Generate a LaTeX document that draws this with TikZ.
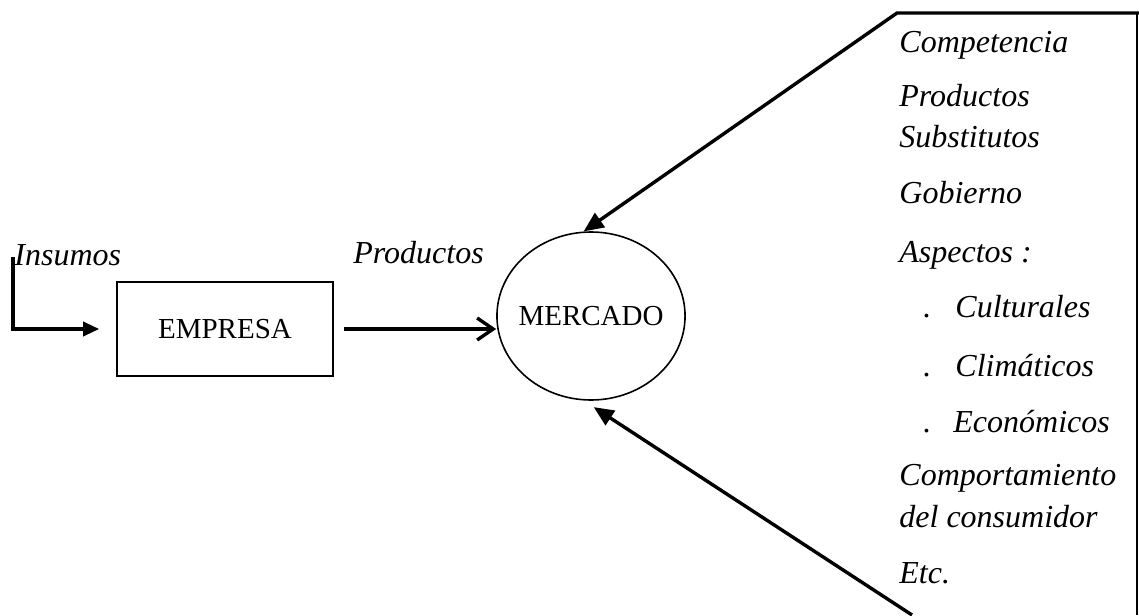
\documentclass[tikz,border=0pt]{standalone}
\usepackage{fontspec}
\setmainfont{Liberation Serif}
\usetikzlibrary{arrows.meta,shapes.geometric}
\begin{document}
\begin{tikzpicture}[x=0.5pt,y=-0.5pt,
  lbl/.style={font=\fontsize{16}{19}\selectfont\itshape, anchor=base west, inner sep=0pt},
  boxtxt/.style={font=\fontsize{14.5}{17}\selectfont, draw, line width=0.8pt},
  heavy/.style={line width=1.7pt},
  filledtip/.style={-{Triangle[length=8pt,width=7pt]}},
  bigtip/.style={-{Triangle[length=10pt,width=8.5pt]}},
  opentip/.style={-{Straight Barb[length=8pt,width=11pt,line width=1.7pt]}}]
\useasboundingbox (0,0) rectangle (1139,615);

% main blocks
\node[boxtxt, rectangle, minimum width=108pt, minimum height=47pt] (empresa) at (225,329) {EMPRESA};
\node[boxtxt, ellipse, minimum width=94pt, minimum height=84pt, inner xsep=-3pt, inner ysep=0pt] (mercado) at (591,316) {MERCADO};

% flow labels
\node[lbl] (insumos) at (14,265) {Insumos};
\node[lbl] (productos) at (353,263) {Productos};

% input arrow into the firm
\coordinate (instart) at (13,257);
\coordinate (inbend) at (13,329);
\draw[heavy, filledtip, shorten >=8.5pt] (instart) -- (inbend) -- (empresa.west);

% output arrow towards the market
\draw[heavy, opentip, shorten <=5pt] (empresa.east) -- (empresa.east -| mercado.west);

% environment frame
\coordinate (frtr) at (1139,13);
\coordinate (frtl) at (897,13);
\coordinate (frbl) at (912,615);
\coordinate (frvt) at (1137,13);
\coordinate (frvb) at (1137,615);
\draw[line width=0.7pt] (frvt) -- (frvb);
\draw[heavy, bigtip] (frtr) -- (frtl) -- (mercado.95);
\draw[heavy, bigtip, shorten >=6pt] (frbl) -- (mercado.265);

% environment factors
\node[lbl] (f1) at (899,53) {Competencia};
\node[lbl] (f2) at (899,106) {Productos};
\node[lbl] (f3) at (899,148) {Substitutos};
\node[lbl] (f4) at (899,203) {Gobierno};
\node[lbl] (f5) at (899,262) {Aspectos :};
\node[lbl] (d1) at (923,317) {.};
\node[lbl] (f6) at (955,317) {Culturales};
\node[lbl] (d2) at (923,376) {.};
\node[lbl] (f7) at (955,376) {Climáticos};
\node[lbl] (d3) at (923,432) {.};
\node[lbl] (f8) at (953,432) {Económicos};
\node[lbl] (f9) at (899,485) {Comportamiento};
\node[lbl] (f10) at (899,527) {del consumidor};
\node[lbl] (f11) at (899,583) {Etc.};
\end{tikzpicture}
\end{document}
